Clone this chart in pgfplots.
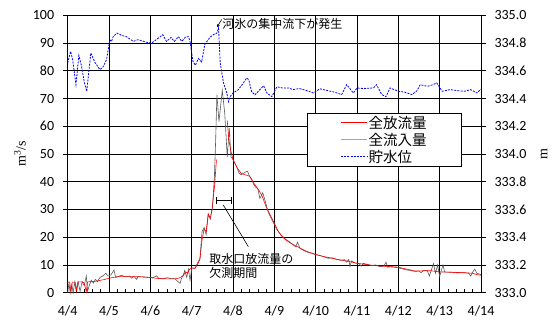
\documentclass[border=0pt]{standalone}
\usepackage{fontspec}
\setmainfont{Carlito}
\newfontfamily\jp{Noto Sans CJK JP}
\newfontfamily\unitfont{Liberation Serif}
\usepackage{pgfplots}
\pgfplotsset{compat=1.18}
\usetikzlibrary{arrows.meta}

% 全流入量 (m3/s), days from 4/4 0:00
\pgfplotstableread{
t q
0.00 0.0
0.03 3.5
0.06 0.0
0.10 3.0
0.13 0.0
0.17 3.8
0.20 1.0
0.25 4.0
0.30 0.5
0.35 4.0
0.40 2.5
0.45 6.0
0.48 0.5
0.52 2.5
0.57 4.5
0.62 3.5
0.67 4.8
0.72 4.0
0.78 5.5
0.85 6.0
0.92 7.0
0.98 6.0
1.05 6.5
1.12 8.2
1.16 5.5
1.22 5.8
1.30 6.3
1.40 5.7
1.50 6.0
1.55 5.2
1.60 5.9
1.67 4.8
1.70 5.8
1.80 5.7
2.00 5.5
2.05 5.3
2.15 6.1
2.20 5.2
2.30 5.0
2.40 5.4
2.50 5.1
2.60 5.0
2.65 4.2
2.72 3.4
2.75 5.0
2.80 6.5
2.83 8.0
2.88 5.5
2.92 8.5
2.96 4.5
3.00 8.5
3.08 8.8
3.15 11.0
3.20 12.5
3.25 22.0
3.30 23.5
3.35 21.0
3.40 28.0
3.45 27.0
3.50 30.0
3.55 42.0
3.58 55.0
3.61 71.4
3.66 61.7
3.74 73.0
3.80 64.6
3.86 49.0
3.91 59.3
3.95 49.0
4.00 48.0
4.10 45.0
4.15 43.0
4.20 42.5
4.30 43.5
4.35 43.8
4.40 42.0
4.45 41.0
4.50 39.0
4.55 38.0
4.60 37.5
4.65 34.0
4.72 36.0
4.78 33.0
4.85 29.0
4.95 26.0
5.05 23.0
5.15 21.0
5.25 19.5
5.35 18.5
5.45 17.3
5.52 16.5
5.56 18.2
5.62 16.0
5.70 15.3
5.80 14.6
5.90 14.2
6.00 13.7
6.10 13.4
6.20 13.0
6.30 12.4
6.40 12.6
6.50 12.0
6.60 11.7
6.70 11.9
6.75 11.0
6.80 12.0
6.83 9.4
6.87 11.5
6.95 10.7
7.05 10.5
7.10 9.5
7.15 10.6
7.25 10.2
7.35 9.8
7.45 10.0
7.55 9.4
7.65 9.6
7.70 11.0
7.74 9.2
7.80 9.4
7.90 9.2
8.00 9.0
8.10 8.6
8.20 8.2
8.30 8.0
8.40 7.7
8.50 7.8
8.55 7.2
8.60 7.9
8.70 8.0
8.75 6.0
8.80 8.2
8.85 10.5
8.90 7.0
8.95 10.0
9.00 5.8
9.05 8.5
9.08 10.0
9.12 7.5
9.20 7.4
9.30 7.4
9.40 7.2
9.50 7.2
9.60 7.2
9.70 7.0
9.75 6.0
9.80 7.5
9.85 8.5
9.90 7.0
9.95 6.8
10.00 6.5
}\inflow

% 全放流量 (m3/s), before the missing period
\pgfplotstableread{
t q
0.00 3.8
0.05 3.8
0.08 0.2
0.11 3.8
0.18 3.8
0.22 0.5
0.25 3.9
0.35 3.9
0.40 3.5
0.45 0.3
0.48 3.9
0.60 4.0
0.70 4.2
0.80 4.5
0.90 4.8
1.00 5.2
1.10 5.5
1.20 5.8
1.40 5.8
1.60 5.8
1.80 5.7
2.00 5.5
2.20 5.1
2.40 5.0
2.60 5.0
2.70 5.3
2.80 6.2
2.85 7.5
2.90 7.0
2.95 8.5
3.00 9.0
3.08 8.8
3.15 10.5
3.20 12.0
3.25 19.0
3.30 23.0
3.35 22.0
3.40 28.5
3.45 26.5
3.50 31.0
3.55 38.0
3.60 48.0
}\outflowA

% 全放流量 (m3/s), after the missing period
\pgfplotstableread{
t q
3.86 62.0
3.90 55.0
3.95 51.0
4.00 48.0
4.10 45.0
4.20 43.0
4.30 42.5
4.40 42.0
4.50 39.5
4.60 37.5
4.70 35.0
4.80 31.0
4.90 28.0
5.00 25.0
5.10 22.0
5.20 20.0
5.30 18.8
5.40 17.8
5.50 17.0
5.60 16.3
5.70 15.5
5.80 14.8
5.90 14.3
6.00 13.8
6.20 13.0
6.40 12.4
6.60 11.8
6.80 11.3
7.00 10.6
7.20 10.2
7.40 9.8
7.60 9.6
7.80 9.4
8.00 9.2
8.20 8.5
8.40 7.8
8.60 7.9
8.80 7.9
9.00 7.5
9.20 7.4
9.40 7.3
9.60 7.2
9.80 7.0
9.90 6.5
10.00 6.3
}\outflowB

% 貯水位 (m)
\pgfplotstableread{
t h
0.00 334.656
0.07 334.740
0.12 334.680
0.20 334.500
0.27 334.710
0.33 334.640
0.40 334.520
0.46 334.452
0.56 334.728
0.66 334.660
0.78 334.608
0.86 334.630
0.94 334.680
1.02 334.824
1.06 334.810
1.10 334.846
1.19 334.872
1.30 334.856
1.42 334.846
1.50 334.830
1.59 334.812
1.70 334.824
1.80 334.816
1.90 334.806
2.03 334.800
2.15 334.826
2.30 334.860
2.39 334.812
2.50 334.840
2.58 334.812
2.68 334.846
2.76 334.812
2.86 334.846
2.92 334.846
2.96 334.812
3.03 334.668
3.09 334.640
3.16 334.688
3.24 334.664
3.32 334.792
3.44 334.840
3.52 334.860
3.61 334.872
3.65 334.908
3.69 334.656
3.77 334.512
3.85 334.440
3.89 334.378
3.93 334.414
4.00 334.440
4.13 334.464
4.25 334.512
4.33 334.548
4.38 334.536
4.45 334.450
4.53 334.426
4.65 334.464
4.74 334.492
4.82 334.440
4.94 334.414
5.06 334.484
5.20 334.476
5.35 334.476
5.45 334.464
5.60 334.472
5.75 334.460
5.95 334.440
6.10 334.470
6.25 334.460
6.45 334.446
6.63 334.428
6.75 334.500
6.91 334.440
7.00 334.476
7.15 334.472
7.40 334.476
7.47 334.500
7.60 334.428
7.70 334.414
7.80 334.476
8.00 334.452
8.15 334.446
8.33 334.428
8.45 334.456
8.53 334.500
8.70 334.488
8.80 334.496
8.93 334.512
9.06 334.452
9.25 334.464
9.45 334.456
9.60 334.452
9.75 334.464
9.90 334.440
10.00 334.468
}\level

\pgfplotsset{
  every axis/.append style={
    scale only axis, width=413.3bp, height=277.4bp,
    xmin=0, xmax=10, clip=false,
    tick label style={font=\fontsize{14bp}{16bp}\selectfont},
    /pgf/number format/assume math mode=true,
  },
  gridline/.style={draw=black, line width=0.6bp, forget plot,
    unbounded coords=jump},
}

\begin{document}
\begin{tikzpicture}
\useasboundingbox (-67.7bp,-27.3bp) rectangle (484.3bp,292.7bp);

\begin{axis}[
  ymin=0, ymax=100,
  xtick={0,...,10},
  xticklabels={4/4,4/5,4/6,4/7,4/8,4/9,4/10,4/11,4/12,4/13,4/14},
  ytick={0,10,...,100},
  tick pos=left,
  major tick length=0pt,
  axis line style={draw=black, line width=0.8bp},
  xticklabel style={yshift=-10bp},
  yticklabel style={xshift=-10bp},
  ylabel={\unitfont m\textsuperscript{3}/s},
  ylabel style={at={(axis description cs:-0.1155,0.5)}, anchor=center,
    font=\fontsize{14bp}{16bp}\selectfont},
  legend style={at={(rel axis cs:0.58,0.648)}, anchor=north west,
    draw=black, fill=white,
    inner xsep=33bp, inner ysep=1.5bp, row sep=1bp,
    font=\jp\fontsize{14.5bp}{16bp}\selectfont,
    nodes={inner sep=1.2bp}},
  legend cell align=left,
  legend image code/.code={%
    \draw[mark repeat=2,mark phase=2,#1]
      plot coordinates {(0bp,0bp) (13bp,0bp) (26bp,0bp)};},
]
  % horizontal grid lines and left ticks (5bp out)
  \addplot[gridline] coordinates {
    (-0.121,0) (0,0) (nan,nan)
    (-0.121,10) (10,10) (nan,nan)
    (-0.121,20) (10,20) (nan,nan)
    (-0.121,30) (10,30) (nan,nan)
    (-0.121,40) (10,40) (nan,nan)
    (-0.121,50) (10,50) (nan,nan)
    (-0.121,60) (10,60) (nan,nan)
    (-0.121,70) (10,70) (nan,nan)
    (-0.121,80) (10,80) (nan,nan)
    (-0.121,90) (10,90) (nan,nan)
    (-0.121,100) (0,100)
  };
  % vertical grid lines, one per day
  \addplot[gridline] coordinates {
    (1,0) (1,100) (nan,nan)
    (2,0) (2,100) (nan,nan)
    (4,0) (4,100) (nan,nan)
    (5,0) (5,100) (nan,nan)
    (6,0) (6,100) (nan,nan)
    (7,0) (7,100) (nan,nan)
    (8,0) (8,100) (nan,nan)
    (9,0) (9,100)
  };
  \addplot[gridline, line width=0.8bp] coordinates {(3,0) (3,100)};
  % minor ticks on the time axis (every 0.2 day)
  \addplot[gridline] coordinates {
    (0.2,0) (0.2,1.45) (nan,nan) (0.4,0) (0.4,1.45) (nan,nan)
    (0.6,0) (0.6,1.45) (nan,nan) (0.8,0) (0.8,1.45) (nan,nan)
    (1.2,0) (1.2,1.45) (nan,nan) (1.4,0) (1.4,1.45) (nan,nan)
    (1.6,0) (1.6,1.45) (nan,nan) (1.8,0) (1.8,1.45) (nan,nan)
    (2.2,0) (2.2,1.45) (nan,nan) (2.4,0) (2.4,1.45) (nan,nan)
    (2.6,0) (2.6,1.45) (nan,nan) (2.8,0) (2.8,1.45) (nan,nan)
    (3.2,0) (3.2,1.45) (nan,nan) (3.4,0) (3.4,1.45) (nan,nan)
    (3.6,0) (3.6,1.45) (nan,nan) (3.8,0) (3.8,1.45) (nan,nan)
    (4.2,0) (4.2,1.45) (nan,nan) (4.4,0) (4.4,1.45) (nan,nan)
    (4.6,0) (4.6,1.45) (nan,nan) (4.8,0) (4.8,1.45) (nan,nan)
    (5.2,0) (5.2,1.45) (nan,nan) (5.4,0) (5.4,1.45) (nan,nan)
    (5.6,0) (5.6,1.45) (nan,nan) (5.8,0) (5.8,1.45) (nan,nan)
    (6.2,0) (6.2,1.45) (nan,nan) (6.4,0) (6.4,1.45) (nan,nan)
    (6.6,0) (6.6,1.45) (nan,nan) (6.8,0) (6.8,1.45) (nan,nan)
    (7.2,0) (7.2,1.45) (nan,nan) (7.4,0) (7.4,1.45) (nan,nan)
    (7.6,0) (7.6,1.45) (nan,nan) (7.8,0) (7.8,1.45) (nan,nan)
    (8.2,0) (8.2,1.45) (nan,nan) (8.4,0) (8.4,1.45) (nan,nan)
    (8.6,0) (8.6,1.45) (nan,nan) (8.8,0) (8.8,1.45) (nan,nan)
    (9.2,0) (9.2,1.45) (nan,nan) (9.4,0) (9.4,1.45) (nan,nan)
    (9.6,0) (9.6,1.45) (nan,nan) (9.8,0) (9.8,1.45)
  };

  \addplot[draw=black!65, line width=0.6bp, forget plot] table[x=t,y=q] {\inflow};
  \addplot[draw=red, line width=0.6bp] table[x=t,y=q] {\outflowA};
  \addlegendentry{全放流量}
  \addplot[draw=red, line width=0.6bp, forget plot] table[x=t,y=q] {\outflowB};
  \addlegendimage{draw=black!35, line width=0.7bp}
  \addlegendentry{全流入量}
  \addlegendimage{draw=blue, line width=0.8bp, dash pattern=on 2bp off 1.2bp}
  \addlegendentry{貯水位}

  % intake outflow missing period
  \draw[black, line width=0.8bp] (axis cs:3.605,33.2) -- (axis cs:3.968,33.2);
  \draw[black, line width=0.8bp] (axis cs:3.605,31.9) -- (axis cs:3.605,34.5);
  \draw[black, line width=0.8bp] (axis cs:3.968,31.9) -- (axis cs:3.968,34.5);
  \draw[black, line width=0.6bp] (axis cs:3.765,31.6) -- (axis cs:4.37,16.6);
  \node[anchor=west, inner sep=0, font=\jp\fontsize{12bp}{14bp}\selectfont]
    at (axis cs:3.426,12.1) {取水口放流量の};
  \node[anchor=west, inner sep=0, font=\jp\fontsize{12bp}{14bp}\selectfont]
    at (axis cs:3.426,7.2) {欠測期間};

  % river ice note
  \draw[black, line width=0.6bp, -{Stealth[length=3bp,width=3bp]}]
    (axis cs:3.726,98.5) -- (axis cs:3.614,95.7);
  \node[anchor=west, inner sep=0, font=\jp\fontsize{12bp}{14bp}\selectfont]
    at (axis cs:3.74,96.9) {河氷の集中流下が発生};
\end{axis}

\begin{axis}[
  ymin=333, ymax=335,
  axis x line=none, axis y line*=right,
  ytick={333,333.2,333.4,333.6,333.8,334,334.2,334.4,334.6,334.8,335},
  yticklabel style={xshift=10bp, /pgf/number format/.cd, fixed, fixed zerofill, precision=1},
  major tick length=0pt,
  axis line style={draw=black, line width=0.8bp},
  ylabel={\unitfont m},
  ylabel style={at={(axis description cs:1.1525,0.5)}, anchor=center,
    font=\fontsize{14bp}{16bp}\selectfont},
]
  % right ticks (5bp out)
  \addplot[gridline] coordinates {
    (10,333) (10.121,333) (nan,nan) (10,333.2) (10.121,333.2) (nan,nan)
    (10,333.4) (10.121,333.4) (nan,nan) (10,333.6) (10.121,333.6) (nan,nan)
    (10,333.8) (10.121,333.8) (nan,nan) (10,334) (10.121,334) (nan,nan)
    (10,334.2) (10.121,334.2) (nan,nan) (10,334.4) (10.121,334.4) (nan,nan)
    (10,334.6) (10.121,334.6) (nan,nan) (10,334.8) (10.121,334.8) (nan,nan)
    (10,335) (10.121,335)
  };
  \addplot[draw=blue, line width=0.8bp, dash pattern=on 2bp off 1.2bp] table[x=t,y=h] {\level};
\end{axis}
\end{tikzpicture}
\end{document}
